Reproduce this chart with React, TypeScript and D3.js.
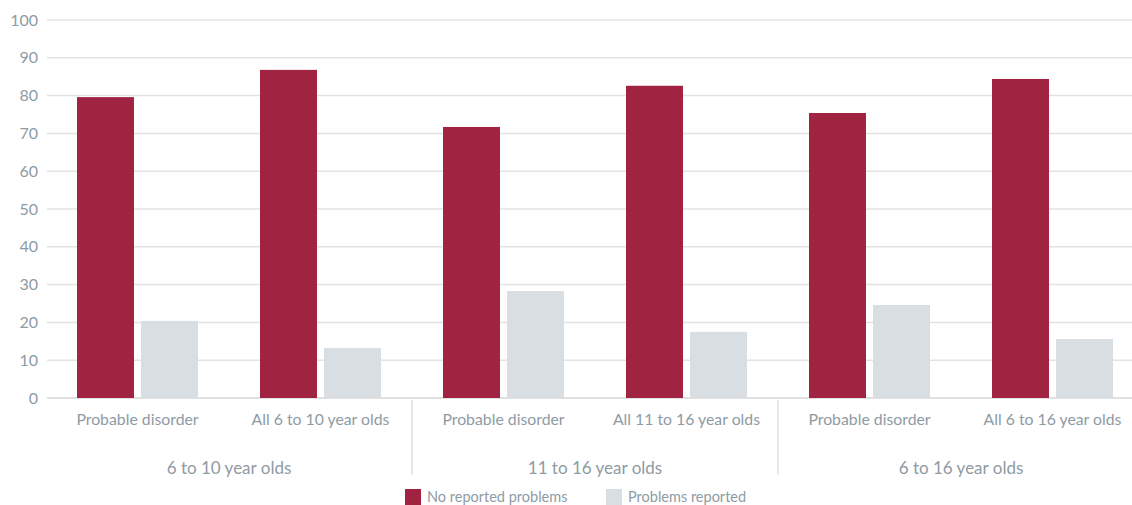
import React from "react";
import * as d3 from "d3";

const categories = [
  "Probable disorder",
  "All 6 to 10 year olds",
  "Probable disorder",
  "All 11 to 16 year olds",
  "Probable disorder",
  "All 6 to 16 year olds",
];
const groups = ["6 to 10 year olds", "11 to 16 year olds", "6 to 16 year olds"];
const seriesNames = ["No reported problems", "Problems reported"];
const noProblems = [79.6, 86.8, 71.7, 82.6, 75.4, 84.4];
const problems = [20.4, 13.2, 28.3, 17.5, 24.6, 15.6];
const yTicks = [0, 10, 20, 30, 40, 50, 60, 70, 80, 90, 100];

const W = 1132;
const H = 505;
const RED = "#a12342";
const GREY = "#d9dee2";
const TEXT = "#8e9ba4";
const FONT = "Lato, 'Open Sans', sans-serif";

export default function App() {
  const x = d3.scaleBand<number>().domain(d3.range(categories.length)).range([46, 1144]).paddingInner(0).paddingOuter(0);
  const y = d3.scaleLinear().domain([0, 100]).range([398, 20]);
  const sub = d3.scaleBand<number>().domain([0, 1]).range([31, 152]).paddingInner(0.11);
  const series = [noProblems, problems];
  const colors = [RED, GREY];

  return (
    <svg width={W} height={H} style={{ position: "absolute", left: 0, top: 0, background: "#fff" }} fontFamily={FONT}>
      {yTicks.map((t) => (
        <g key={t}>
          <line x1={47} x2={W} y1={y(t)} y2={y(t)} stroke={t === 0 ? "#d6d6d6" : "#e3e3e3"} strokeWidth={1.5} />
          <text x={38} y={y(t)} dy="0.35em" textAnchor="end" fontSize={16} fill={TEXT}>
            {t}
          </text>
        </g>
      ))}
      {categories.map((c, i) => (
        <g key={i} transform={`translate(${x(i)},0)`}>
          {series.map((s, k) => (
            <rect
              key={k}
              x={sub(k)}
              width={sub.bandwidth()}
              y={y(s[i])}
              height={y(0) - y(s[i])}
              fill={colors[k]}
            />
          ))}
          <text x={x.bandwidth() / 2} y={425} textAnchor="middle" fontSize={15.8} fill={TEXT}>
            {c}
          </text>
        </g>
      ))}
      {groups.map((g, j) => {
        const gx = (x(j * 2) as number) + x.bandwidth();
        return (
          <g key={j}>
            <text x={gx} y={474} textAnchor="middle" fontSize={17} fill={TEXT}>
              {g}
            </text>
            {j > 0 && (
              <line x1={x(j * 2) as number} x2={x(j * 2) as number} y1={400} y2={475} stroke="#e0e0e0" strokeWidth={1.5} />
            )}
          </g>
        );
      })}
      {seriesNames.map((n, k) => {
        const lx = [405, 606][k];
        return (
          <g key={k}>
            <rect x={lx} y={489} width={16} height={16} fill={colors[k]} />
            <text x={lx + 22} y={502} fontSize={14.5} fill={TEXT}>
              {n}
            </text>
          </g>
        );
      })}
    </svg>
  );
}
